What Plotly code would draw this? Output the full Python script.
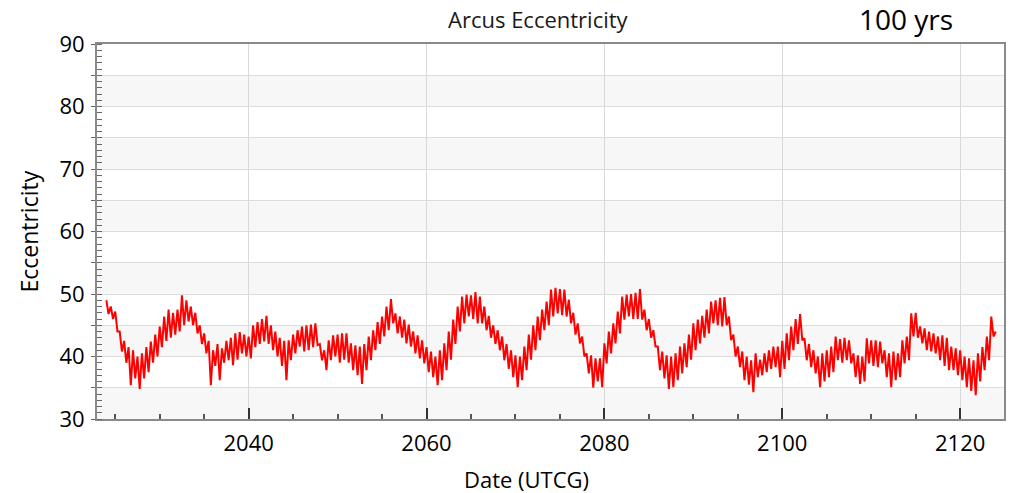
import plotly.graph_objects as go

# ---- data (eccentricity, zig-zag peaks/troughs every half year) ----
start_year = 2024.0
sample_step = 0.25

# peak values at start_year + 0.5*i
peaks = [
    49.0, 48.0, 47.2, 44.0, 42.5, 41.5, 41.0, 40.0, 40.5, 41.5,   # 2024-2028.5
    42.4, 43.5, 44.8, 46.4, 47.5, 47.0, 47.5, 49.8, 49.0, 48.0,   # 2029-2033.5
    47.0, 45.0, 43.7, 42.5, 41.0, 42.0, 41.3, 42.5, 43.0, 43.7,   # 2034-2038.5
    43.9, 43.5, 43.2, 45.0, 45.5, 46.0, 46.5, 45.0, 44.0, 43.0,   # 2039-2043.5
    42.5, 42.6, 43.5, 44.2, 44.8, 45.0, 45.1, 45.3, 42.0, 41.0,   # 2044-2048.5
    42.6, 43.4, 43.5, 43.7, 43.7, 42.1, 41.8, 41.6, 42.0, 43.2,   # 2049-2053.5
    44.2, 45.5, 46.4, 48.0, 49.2, 46.9, 46.4, 45.9, 45.1, 44.0,   # 2054-2058.5
    43.4, 42.6, 41.5, 40.8, 40.0, 41.0, 42.1, 44.0, 45.9, 48.0,   # 2059-2063.5
    49.6, 49.9, 49.8, 50.3, 49.6, 48.0, 46.5, 45.0, 44.2, 43.2,   # 2064-2068.5
    42.0, 41.0, 40.2, 40.0, 41.6, 43.5, 45.0, 46.4, 47.5, 48.8,   # 2069-2073.5
    50.7, 51.0, 50.8, 50.7, 49.1, 47.0, 45.3, 43.2, 40.5, 40.2,   # 2074-2078.5
    39.7, 39.7, 42.1, 44.0, 45.3, 47.2, 49.6, 49.9, 50.0, 50.2,   # 2079-2083.5
    50.8, 47.5, 46.0, 44.2, 41.6, 40.8, 40.2, 40.0, 40.5, 41.6,   # 2084-2088.5
    42.1, 43.5, 45.3, 45.9, 46.5, 47.5, 48.8, 49.0, 49.4, 49.5,   # 2089-2093.5
    46.4, 43.5, 41.6, 40.8, 40.0, 39.4, 40.5, 39.5, 40.5, 41.0,   # 2094-2098.5
    41.6, 41.6, 42.5, 43.7, 44.8, 46.0, 46.8, 42.9, 42.0, 41.0,   # 2099-2103.5
    40.0, 40.5, 41.0, 41.6, 43.2, 42.8, 43.0, 42.6, 40.5, 40.2,   # 2104-2108.5
    40.0, 42.9, 42.6, 42.6, 42.4, 41.0, 40.5, 40.8, 40.5, 42.6,   # 2109-2113.5
    43.2, 46.9, 47.0, 44.8, 44.5, 44.0, 43.7, 43.2, 43.4, 43.0,   # 2114-2118.5
    41.6, 41.3, 41.0, 40.0, 39.7, 39.4, 40.5, 41.5, 43.2, 46.4,   # 2119-2123.5
]

# trough values at start_year + 0.25 + 0.5*i
troughs = [
    46.8, 46.0, 44.0, 40.8, 39.0, 35.4, 36.5, 34.8, 36.5, 37.5,   # 2024-2028.5
    39.0, 40.0, 41.5, 42.5, 43.0, 43.5, 44.0, 45.0, 45.6, 45.0,   # 2029-2033.5
    43.7, 42.0, 40.5, 35.4, 38.5, 36.2, 39.0, 39.4, 38.6, 39.5,   # 2034-2038.5
    40.5, 40.0, 39.7, 41.5, 42.0, 42.4, 42.0, 41.0, 40.0, 38.5,   # 2039-2043.5
    36.2, 39.4, 40.5, 41.6, 40.8, 41.0, 41.5, 41.8, 39.4, 37.8,   # 2044-2048.5
    39.4, 40.0, 39.0, 39.5, 39.0, 37.8, 37.0, 35.6, 37.8, 39.4,   # 2049-2053.5
    41.0, 42.0, 43.2, 44.2, 45.3, 43.7, 43.0, 42.1, 41.6, 40.5,   # 2054-2058.5
    39.7, 38.9, 37.5, 36.7, 35.4, 36.2, 37.8, 39.5, 42.0, 44.0,   # 2059-2063.5
    45.3, 46.4, 46.0, 45.3, 45.3, 44.2, 43.0, 42.0, 41.0, 39.4,   # 2064-2068.5
    38.0, 36.7, 35.1, 36.2, 37.8, 39.5, 41.0, 42.6, 44.2, 45.0,   # 2069-2073.5
    46.4, 46.9, 46.6, 46.4, 45.3, 43.5, 42.1, 40.0, 37.3, 35.0,   # 2074-2078.5
    36.0, 35.1, 38.9, 40.5, 42.1, 43.7, 45.9, 46.4, 46.0, 46.0,   # 2079-2083.5
    45.9, 44.2, 43.0, 41.6, 37.8, 36.5, 34.8, 35.1, 36.2, 37.3,   # 2084-2088.5
    38.3, 39.5, 41.0, 42.1, 43.0, 43.7, 45.3, 45.0, 44.8, 45.0,   # 2089-2093.5
    42.6, 40.0, 38.3, 36.2, 35.5, 34.3, 36.7, 37.0, 37.5, 38.0,   # 2094-2098.5
    38.3, 36.7, 38.0, 39.4, 41.0, 42.0, 42.6, 39.4, 38.3, 37.3,   # 2099-2103.5
    35.1, 36.0, 36.7, 37.5, 39.4, 39.0, 39.4, 38.9, 36.7, 35.6,   # 2104-2108.5
    36.0, 38.9, 38.5, 38.3, 38.9, 36.7, 35.1, 36.2, 36.7, 38.9,   # 2109-2113.5
    39.4, 43.2, 43.0, 42.1, 41.0, 40.8, 40.5, 39.4, 38.5, 37.8,   # 2114-2118.5
    37.8, 37.0, 36.2, 35.1, 34.5, 33.8, 36.0, 37.8, 39.4, 43.2,   # 2119-2123.5
]
last_value = 44.0   # value at 2124.0

x_tick_years = [2040, 2060, 2080, 2100, 2120]
y_tick_values = [30, 35, 40, 45, 50, 55, 60, 65, 70, 75, 80, 85, 90]
y_tick_labels = ["30", "", "40", "", "50", "", "60", "", "70", "", "80", "", "90"]
band_starts = [30, 40, 50, 60, 70, 80]
band_height = 5

# ---- assemble series ----
values = []
for p, t in zip(peaks, troughs):
    values.append(p)
    values.append(t)
values.append(last_value)
years = [start_year + sample_step * i for i in range(len(values))]

FONT = "Open Sans, Noto Sans, sans-serif"

fig = go.Figure()
fig.add_trace(go.Scatter(
    x=years, y=values, mode="lines",
    line=dict(color="#ff0000", width=2),
    hoverinfo="skip", showlegend=False,
))

shapes = []
for b in band_starts:
    shapes.append(dict(
        type="rect", xref="paper", yref="y", x0=0, x1=1, y0=b, y1=b + band_height,
        fillcolor="#f7f7f7", line=dict(width=0), layer="below",
    ))

fig.update_layout(
    width=1015, height=493,
    margin=dict(l=97, r=9, t=44, b=74),
    paper_bgcolor="white", plot_bgcolor="white",
    shapes=shapes,
    font=dict(family=FONT, color="#000000"),
    xaxis=dict(
        range=[2022.95, 2124.93],
        tickmode="array", tickvals=x_tick_years,
        ticks="inside", ticklen=11, tickwidth=1.5, tickcolor="#333333",
        tickfont=dict(size=22, family=FONT, color="#000000"),
        ticklabelstandoff=4,
        showgrid=True, gridcolor="#d9d9d9", gridwidth=1,
        showline=True, linecolor="#8a8a8a", linewidth=2, mirror=True,
        minor=dict(tickmode="linear", tick0=2040, dtick=5, ticks="inside",
                   ticklen=5, tickcolor="#555555", showgrid=False),
        zeroline=False,
    ),
    yaxis=dict(
        range=[30, 90],
        tickmode="array", tickvals=y_tick_values, ticktext=y_tick_labels,
        ticks="outside", ticklen=4, tickcolor="#666666",
        tickfont=dict(size=22, family=FONT, color="#000000"),
        ticklabelstandoff=2,
        showgrid=True, gridcolor="#dcdcdc", gridwidth=1,
        showline=True, linecolor="#8a8a8a", linewidth=2, mirror=True,
        minor=dict(tickmode="linear", tick0=30, dtick=1, ticks="inside",
                   ticklen=5, tickcolor="#666666", showgrid=False),
        zeroline=False,
    ),
    annotations=[
        dict(text="Arcus Eccentricity", xref="paper", yref="paper",
             x=0.487, y=1.066, xanchor="center", yanchor="middle",
             showarrow=False, font=dict(size=22, family=FONT, color="#1a1a1a")),
        dict(text="100 yrs", xref="paper", yref="paper",
             x=0.892, y=1.066, xanchor="center", yanchor="middle",
             showarrow=False, font=dict(size=28, family=FONT, color="#000000")),
        dict(text="Date (UTCG)", xref="paper", yref="paper",
             x=0.474, y=-0.16, xanchor="center", yanchor="middle",
             showarrow=False, font=dict(size=22, family=FONT, color="#000000")),
        dict(text="Eccentricity", xref="paper", yref="paper",
             x=-0.076, y=0.5, xanchor="center", yanchor="middle", textangle=-90,
             showarrow=False, font=dict(size=23, family=FONT, color="#000000")),
    ],
)

fig.write_html(
    "out.html",
    config={"displayModeBar": False},
    post_script="document.body.style.margin='0';document.body.style.overflow='hidden';",
)
